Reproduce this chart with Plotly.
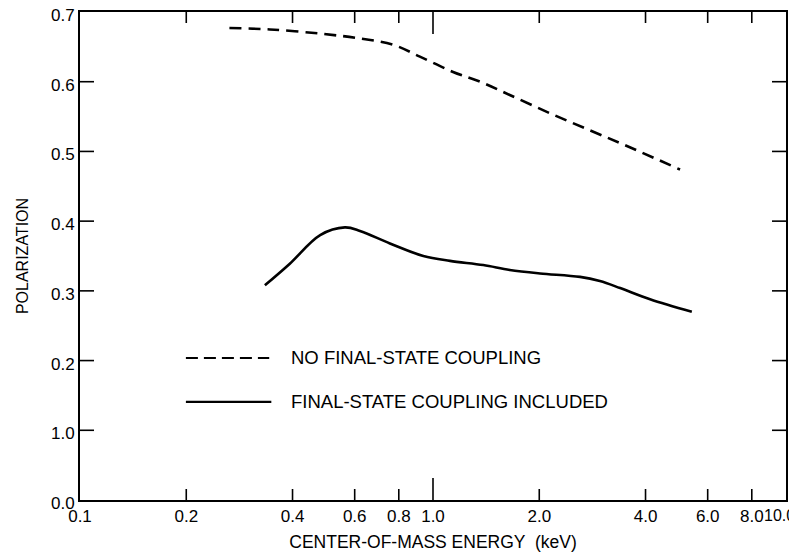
import math
import plotly.graph_objects as go

# Dashed curve: no final-state coupling
energy_nofsc = [0.265, 0.345, 0.479, 0.621, 0.771, 0.918, 1.14, 1.36, 1.65, 2.14, 2.79, 3.61, 5.01]
pol_nofsc = [0.677, 0.675, 0.669, 0.662, 0.653, 0.636, 0.614, 0.600, 0.581, 0.555, 0.530, 0.506, 0.474]

# Solid curve: final-state coupling included
energy_fsc = [0.334, 0.393, 0.479, 0.563, 0.621, 0.755, 0.939, 1.117, 1.388, 1.65, 2.01, 2.61, 2.97, 3.39, 4.12, 5.41]
pol_fsc = [0.308, 0.339, 0.380, 0.391, 0.386, 0.368, 0.350, 0.343, 0.337, 0.330, 0.325, 0.320, 0.314, 0.304, 0.288, 0.270]

x_tickvals = [0.1, 0.2, 0.4, 0.6, 0.8, 1.0, 2.0, 4.0, 6.0, 8.0, 10.0]
x_ticktext = ["0.1", "0.2", "0.4", "0.6", "0.8", "1.0", "2.0", "4.0", "6.0", "8.0", "10.0"]
x_short_ticks = [0.2, 0.4, 0.6, 0.8, 2.0, 4.0, 6.0, 8.0]
x_long_ticks = [1.0]
y_tickvals = [0.0, 0.1, 0.2, 0.3, 0.4, 0.5, 0.6, 0.7]
y_ticktext = ["0.0", "1.0", "0.2", "0.3", "0.4", "0.5", "0.6", "0.7"]
y_inner_ticks = [0.1, 0.2, 0.3, 0.4, 0.5, 0.6]

label_nofsc = "NO FINAL-STATE COUPLING"
label_fsc = "FINAL-STATE COUPLING INCLUDED"

FONT = "Liberation Sans, Arial, sans-serif"
X_LOG_MIN, X_LOG_MAX = -1, 1
PLOT_W, PLOT_H = 706, 488

fig = go.Figure()
fig.add_trace(go.Scatter(x=energy_nofsc, y=pol_nofsc, mode="lines",
                         line=dict(color="black", width=2.6, dash="12px,7px", shape="spline"),
                         name=label_nofsc, showlegend=False, hoverinfo="skip"))
fig.add_trace(go.Scatter(x=energy_fsc, y=pol_fsc, mode="lines",
                         line=dict(color="black", width=2.6, shape="spline"),
                         name=label_fsc, showlegend=False, hoverinfo="skip"))

# the page body has an 8px margin, so the figure is sized/offset to compensate
fig.update_layout(
    width=789, height=544,
    margin=dict(l=72, r=11, t=4, b=52),
    paper_bgcolor="white", plot_bgcolor="white",
    font=dict(family=FONT, color="black", size=16),
    xaxis=dict(type="log", range=[X_LOG_MIN, X_LOG_MAX], showgrid=False, zeroline=False,
               automargin=False, showline=True, linecolor="black", linewidth=2, mirror=True,
               ticks="", tickmode="array", tickvals=x_tickvals[:-1], ticktext=x_ticktext[:-1],
               tickangle=0, tickfont=dict(size=17), ticklabeloverflow="allow",
               title=dict(text="CENTER-OF-MASS ENERGY  (keV)", font=dict(size=17.5), standoff=10)),
    yaxis=dict(range=[0, 0.7], showgrid=False, zeroline=False, showline=True, automargin=False,
               linecolor="black", linewidth=2, mirror=True, ticks="",
               tickmode="array", tickvals=y_tickvals, ticktext=y_ticktext,
               tickfont=dict(size=17), ticklabeloverflow="allow", ticklabelshift=3,
               title=dict(text="POLARIZATION", font=dict(size=16), standoff=18)),
)

# last x tick label, right-aligned so it stays inside the page
fig.add_annotation(xref="x", yref="paper", x=math.log10(x_tickvals[-1]), y=0,
                   text=x_ticktext[-1], showarrow=False, xanchor="right", yanchor="top",
                   xshift=11, yshift=-5, font=dict(size=16))


def xfrac(v):
    return (math.log10(v) - X_LOG_MIN) / (X_LOG_MAX - X_LOG_MIN)


tick_line = dict(color="black", width=1.6)
# x ticks (inside, bottom and top)
for vals, length in ((x_short_ticks, 11), (x_long_ticks, 22)):
    ln = length / PLOT_H
    for v in vals:
        f = xfrac(v)
        fig.add_shape(type="line", xref="x domain", yref="y domain", x0=f, x1=f, y0=0, y1=ln, line=tick_line)
        fig.add_shape(type="line", xref="x domain", yref="y domain", x0=f, x1=f, y0=1, y1=1 - ln, line=tick_line)
# y ticks (inside, left and right)
ln = 14 / PLOT_W
for v in y_inner_ticks:
    fig.add_shape(type="line", xref="x domain", yref="y", x0=0, x1=ln, y0=v, y1=v, line=tick_line)
    fig.add_shape(type="line", xref="x domain", yref="y", x0=1, x1=1 - ln, y0=v, y1=v, line=tick_line)

# in-plot key
key_x0, key_x1, key_tx = 0.150, 0.268, 0.296
key_y_dash, key_y_solid = 0.291, 0.201
fig.add_shape(type="line", xref="paper", yref="paper", x0=key_x0, x1=key_x1,
              y0=key_y_dash, y1=key_y_dash, line=dict(color="black", width=2.2, dash="12px,6px"))
fig.add_shape(type="line", xref="paper", yref="paper", x0=key_x0, x1=key_x1 + 0.003,
              y0=key_y_solid, y1=key_y_solid, line=dict(color="black", width=2.4))
fig.add_annotation(xref="paper", yref="paper", x=key_tx, y=key_y_dash, text=label_nofsc,
                   showarrow=False, xanchor="left", yanchor="middle", font=dict(size=18.5))
fig.add_annotation(xref="paper", yref="paper", x=key_tx, y=key_y_solid, text=label_fsc,
                   showarrow=False, xanchor="left", yanchor="middle", font=dict(size=18.5))

fig.write_html("out.html")
